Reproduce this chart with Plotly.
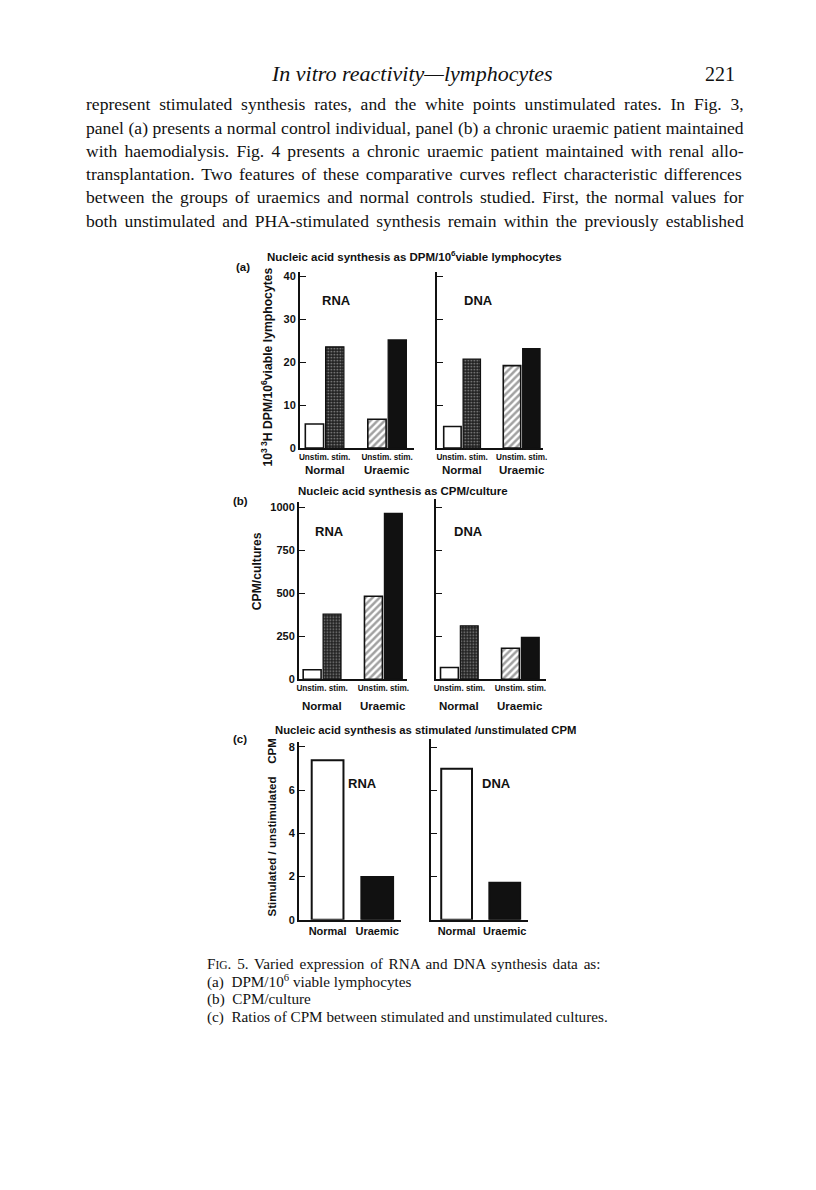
import plotly.graph_objects as go

W, H = 816, 1190

# ---- data ----
groups = ["Normal", "Uraemic"]

a_rna_unstim = [5.6, 6.7]
a_rna_stim = [23.6, 25.2]
a_dna_unstim = [5.0, 19.2]
a_dna_stim = [20.7, 23.2]

b_rna_unstim = [56, 484]
b_rna_stim = [380, 967]
b_dna_unstim = [69, 181]
b_dna_stim = [312, 245]

c_rna_ratio = [7.39, 1.98]
c_dna_ratio = [6.99, 1.72]

a_ticks = [0, 10, 20, 30, 40]
b_ticks = [0, 250, 500, 750, 1000]
c_ticks = [0, 2, 4, 6, 8]

header = "<i>In vitro reactivity—lymphocytes</i>"
page_no = "221"
body_lines = [
    "represent stimulated synthesis rates, and the white points unstimulated rates. In Fig. 3,",
    "panel (a) presents a normal control individual, panel (b) a chronic uraemic patient maintained",
    "with haemodialysis. Fig. 4 presents a chronic uraemic patient maintained with renal allo-",
    "transplantation. Two features of these comparative curves reflect characteristic differences",
    "between the groups of uraemics and normal controls studied. First, the normal values for",
    "both unstimulated and PHA-stimulated synthesis remain within the previously established",
]
caption_head = ("F", "IG", ". 5. Varied expression of RNA and DNA synthesis data as:")
caption_lines = [
    "(a)\u00a0 DPM/10<sup>6</sup> viable lymphocytes",
    "(b)\u00a0 CPM/culture",
    "(c)\u00a0 Ratios of CPM between stimulated and unstimulated cultures.",
]

INK = "#111111"
SANS = "Liberation Sans"
SERIF = "Liberation Serif"

# Times advance widths (1/1000 em), used to justify the serif text block
TIMES = dict(zip("abcdefghijklmnopqrstuvwxyz",
                 [444, 500, 444, 500, 444, 333, 500, 500, 278, 278, 500, 278, 778,
                  500, 500, 500, 500, 333, 389, 278, 500, 500, 722, 500, 500, 444]))
TIMES.update({" ": 250, "\u00a0": 250, "(": 333, ")": 333, ",": 250, ".": 250, "-": 333,
              ":": 278, "/": 278, "A": 722, "C": 667, "D": 722, "F": 556, "G": 722,
              "H": 722, "I": 333, "M": 889, "N": 722, "P": 556, "R": 667, "T": 611})
for d in "0123456789":
    TIMES[d] = 500


def em_width(s):
    return sum(TIMES.get(c, 500) for c in s) / 1000.0


def px(x):
    return x / W


def py(y):
    return 1 - y / H


def dom_x(left, right):
    return [px(left), px(right)]


def dom_y(top, bottom):
    return [py(bottom), py(top)]


fig = go.Figure()

unstim_fill = dict(color=["white", "white"],
                   pattern=dict(shape=["", "/"], fgcolor=INK, bgcolor="white",
                                size=5, solidity=0.5),
                   line=dict(color=INK, width=1.6))
stim_fill = dict(color=["#222222", INK],
                 pattern=dict(shape=[".", ""], fgcolor="#5e5e5e", bgcolor="#1f1f1f",
                              size=3, solidity=0.25),
                 line=dict(color=INK, width=1.2))

pairs = [
    (1, a_rna_unstim, a_rna_stim),
    (2, a_dna_unstim, a_dna_stim),
    (3, b_rna_unstim, b_rna_stim),
    (4, b_dna_unstim, b_dna_stim),
]
for n, unstim, stim in pairs:
    ax = "" if n == 1 else str(n)
    fig.add_trace(go.Bar(x=[0, 1], y=unstim, marker=unstim_fill,
                         xaxis="x" + ax, yaxis="y" + ax, showlegend=False))
    fig.add_trace(go.Bar(x=[0, 1], y=stim, marker=stim_fill,
                         xaxis="x" + ax, yaxis="y" + ax, showlegend=False))

for n, vals in [(5, c_rna_ratio), (6, c_dna_ratio)]:
    fig.add_trace(go.Bar(x=[0, 1], y=vals, width=0.64,
                         marker=dict(color=["white", INK], line=dict(color=INK, width=2)),
                         xaxis="x%d" % n, yaxis="y%d" % n, showlegend=False))

axis_line = dict(showline=True, linecolor=INK, linewidth=1.6, showgrid=False,
                 zeroline=False, ticks="", mirror=False)
y_common = dict(axis_line, ticks="inside", ticklen=6, tickwidth=1.4, tickcolor=INK,
                tickfont=dict(family=SANS, size=11, color=INK, weight="bold"))
x_common = dict(axis_line, tickmode="array", tickvals=[0, 1], tickangle=0,
                tickfont=dict(family=SANS, size=8.2, color=INK, weight="bold"))

sub_text = ["Unstim. stim.", "Unstim. stim."]

# panel geometry (pixels): x-left, x-right, x-range, y-top, y-bottom, y-range
panels = {
    1: ((300, 415), [-0.397, 1.429], (272, 449), [0, 41.0], a_ticks, True),
    2: ((438, 545), [-0.425, 1.358], (272, 449), [0, 41.0], a_ticks, False),
    3: ((299, 408), [-0.380, 1.385], (503, 682), [0, 1035], b_ticks, True),
    4: ((437, 548), [-0.386, 1.419], (500, 682), [0, 1052], b_ticks, False),
    5: ((299, 402), [-0.580, 1.480], (745, 924), [0, 8.23], c_ticks, True),
    6: ((432, 530), [-0.536, 1.485], (742, 924), [0, 8.37], c_ticks, False),
}

layout_axes = {}
for n, ((xl, xr), xrng, (yt, yb), yrng, ticks, labels) in panels.items():
    key = "" if n == 1 else str(n)
    xa = dict(x_common, domain=dom_x(xl, xr), range=xrng, anchor="y" + key)
    if n >= 5:
        xa["ticktext"] = ["<b>Normal</b>", "<b>Uraemic</b>"]
        xa["tickfont"] = dict(family=SANS, size=11, color=INK)
    else:
        xa["ticktext"] = sub_text
    ya = dict(y_common, domain=dom_y(yt, yb), range=yrng, anchor="x" + key,
              tickvals=ticks, showticklabels=labels)
    layout_axes["xaxis" + key] = xa
    layout_axes["yaxis" + key] = ya

ann = []


def text(x, y, s, size, family=SANS, xanchor="center", angle=0, xref="paper", bold=False):
    ann.append(dict(x=x if xref != "paper" else px(x), y=py(y), xref=xref, yref="paper",
                    text=s, showarrow=False, xanchor=xanchor, yanchor="middle",
                    textangle=angle, align="left" if xanchor == "left" else "center",
                    borderpad=0,
                    font=dict(family=family, size=size, color=INK,
                              weight="bold" if bold else "normal")))


# page text: header, justified paragraph, caption
text(413, 72, header, 22, family=SERIF)
text(739, 72, page_no, 20, family=SERIF, xanchor="right")

body_left, body_width = 84, 658
body_size = body_width / (em_width(body_lines[1]) + 0.1)
for i, line in enumerate(body_lines):
    gap = (body_width - em_width(line) * body_size) / line.count(" ")
    styled = "<span style='word-spacing:%.2fpx'>%s</span>" % (gap, line)
    text(body_left, 103 + i * 23.4, styled, round(body_size, 2), family=SERIF, xanchor="left")

cap_left = 206
cap_size = 401 / em_width(caption_lines[2].replace("<sup>", "").replace("</sup>", ""))
small = cap_size * 0.76
head_w = (em_width(caption_head[0] + caption_head[2]) * cap_size
          + em_width(caption_head[1]) * small)
head_gap = (394 - head_w) / caption_head[2].count(" ")
head = "<span style='word-spacing:%.2fpx'>%s<span style='font-size:%.1fpx'>%s</span>%s</span>" % (
    head_gap, caption_head[0], small, caption_head[1], caption_head[2])
text(cap_left, 968, head, round(cap_size, 2), family=SERIF, xanchor="left")
for i, line in enumerate(caption_lines):
    text(cap_left, 986 + i * 18.0, line, round(cap_size, 2), family=SERIF, xanchor="left")

# panel titles and letters
text(416, 256, "Nucleic acid synthesis as DPM/10<sup>6</sup>viable lymphocytes", 11.5, bold=True)
text(243, 267, "(a)", 11.5, bold=True)
text(404, 492, "Nucleic acid synthesis as CPM/culture", 11.5, bold=True)
text(240, 502, "(b)", 11.5, bold=True)
text(427, 733, "Nucleic acid synthesis as stimulated /unstimulated CPM", 11.3, bold=True)
text(240, 742, "(c)", 11.5, bold=True)

# y titles
text(266, 368, "10<sup>3 3</sup>H DPM/10<sup>6</sup>viable lymphocytes", 12.2, angle=-90, bold=True)
text(257, 573, "CPM/cultures", 12.2, angle=-90, bold=True)
text(272, 831, "Stimulated / unstimulated    CPM", 11.5, angle=-90, bold=True)

# RNA / DNA labels
text(337, 301, "RNA", 13, bold=True)
text(480, 301, "DNA", 13, bold=True)
text(330, 533, "RNA", 13, bold=True)
text(470, 533, "DNA", 13, bold=True)
text(363, 787, "RNA", 13, bold=True)
text(498, 787, "DNA", 13, bold=True)

# group names under panels (a) and (b)
for ax, yrow in [("x", 471), ("x2", 471), ("x3", 709), ("x4", 709)]:
    for i, g in enumerate(groups):
        text(i, yrow, g, 11.5, xref=ax, bold=True)

fig.update_layout(
    width=W, height=H,
    margin=dict(l=0, r=0, t=0, b=0),
    paper_bgcolor="white", plot_bgcolor="rgba(0,0,0,0)",
    barmode="group", bargap=0.35, bargroupgap=0.1,
    showlegend=False,
    annotations=ann,
    **layout_axes,
)

# drop the default 8px page margin so figure pixels land on screen pixels
fig.write_html("out.html", config={"displayModeBar": False},
               post_script="document.body.style.margin = '0px';")
